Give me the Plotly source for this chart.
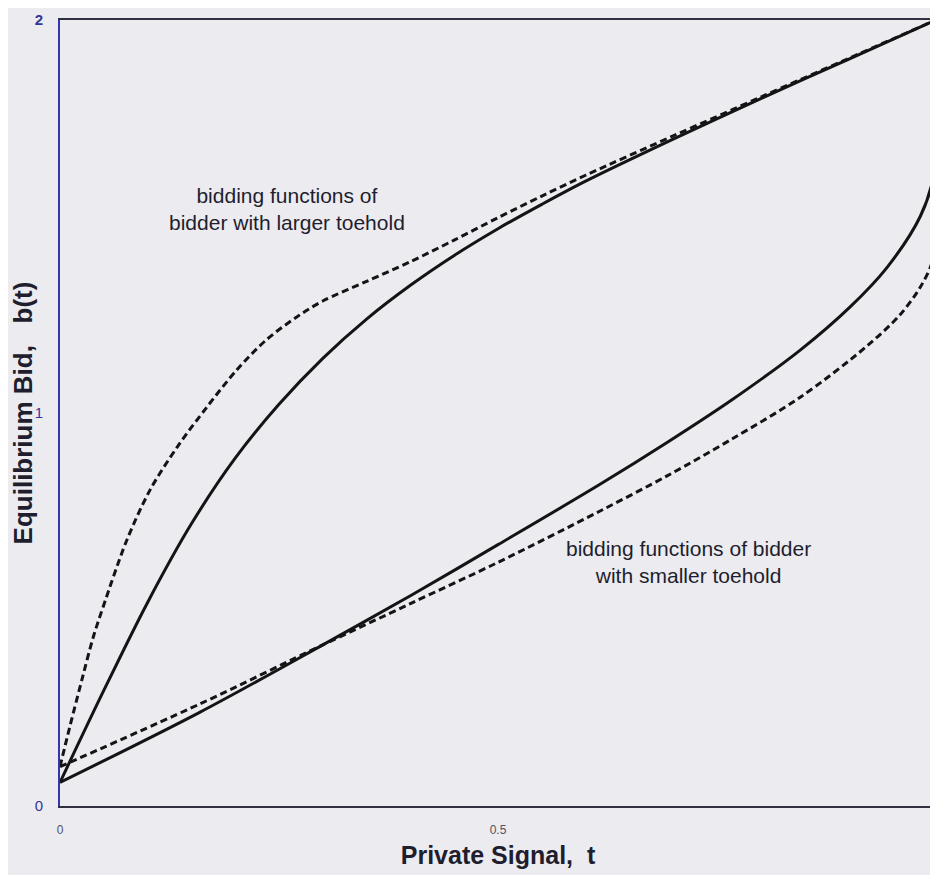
import plotly.graph_objects as go

# Larger toehold bidder
t_large_solid = [0.0, 0.05, 0.10, 0.15, 0.20, 0.25, 0.30, 0.35, 0.40, 0.45, 0.50, 0.55, 0.60, 0.70, 0.80, 0.90, 1.0]
b_large_solid = [0.06, 0.294, 0.518, 0.718, 0.885, 1.022, 1.139, 1.239, 1.325, 1.401, 1.469, 1.531, 1.590, 1.697, 1.800, 1.900, 2.0]

t_large_dash = [0.0, 0.011, 0.026, 0.038, 0.049, 0.076, 0.103, 0.134, 0.168, 0.202, 0.236, 0.274, 0.30, 0.35, 0.40, 0.45, 0.50, 0.55, 0.60, 0.70, 0.80, 0.90, 1.0]
b_large_dash = [0.10, 0.20, 0.33, 0.43, 0.505, 0.675, 0.805, 0.914, 1.016, 1.110, 1.187, 1.25, 1.285, 1.335, 1.385, 1.44, 1.497, 1.552, 1.605, 1.705, 1.804, 1.902, 2.0]

# Smaller toehold bidder
t_small_solid = [0.0, 0.16, 0.3, 0.4, 0.5, 0.616, 0.693, 0.768, 0.845, 0.902, 0.944, 0.982, 0.997, 1.0]
b_small_solid = [0.06, 0.239, 0.41, 0.535, 0.665, 0.818, 0.925, 1.035, 1.16, 1.27, 1.37, 1.50, 1.60, 1.70]

t_small_dash = [0.0, 0.16, 0.3, 0.4, 0.5, 0.616, 0.693, 0.768, 0.845, 0.921, 0.959, 0.982, 0.995, 1.0]
b_small_dash = [0.10, 0.26, 0.41, 0.515, 0.62, 0.75, 0.84, 0.935, 1.04, 1.17, 1.25, 1.32, 1.38, 1.45]

x_tickvals = [0, 0.5]
x_ticktext = ["0", "0.5"]
y_tickvals = [0, 1, 2]
y_ticktext = ["0", "1", "<b>2</b>"]

line_col = "#141414"
bg = "#ecebf0"
FONT = "Arial, Liberation Sans, sans-serif"

fig = go.Figure()
for t, b, dash in [
    (t_large_solid, b_large_solid, "solid"),
    (t_large_dash, b_large_dash, "7px,4px"),
    (t_small_solid, b_small_solid, "solid"),
    (t_small_dash, b_small_dash, "7px,4px"),
]:
    fig.add_trace(go.Scatter(x=t, y=b, mode="lines",
                             line=dict(color=line_col, width=3, dash=dash, shape="spline", smoothing=0.9),
                             showlegend=False, hoverinfo="skip"))

fig.add_annotation(x=0.259, y=1.52, xref="x", yref="y", text="bidding functions of<br>bidder with larger toehold",
                   showarrow=False, font=dict(family=FONT, size=21, color="#1e1e2e"), align="center")
fig.add_annotation(x=0.717, y=0.62, xref="x", yref="y", text="bidding functions of bidder<br>with smaller toehold",
                   showarrow=False, font=dict(family=FONT, size=21, color="#1e1e2e"), align="center")

fig.update_layout(
    width=930, height=867,
    margin=dict(l=52, r=2, t=12, b=69),
    paper_bgcolor=bg, plot_bgcolor=bg,
    font=dict(family=FONT),
)
fig.update_xaxes(range=[0, 1], tickvals=x_tickvals, ticktext=x_ticktext, showgrid=False, zeroline=False,
                 showline=True, linecolor="#303040", linewidth=2, mirror=True, ticks="",
                 ticklabelstandoff=12,
                 tickfont=dict(size=12, color="#505060"),
                 title=dict(text="<b>Private Signal,  t</b>", font=dict(size=25, color="#1e1e2e"), standoff=10))
fig.update_yaxes(range=[0, 2], tickvals=y_tickvals, ticktext=y_ticktext, showgrid=False, zeroline=False,
                 showline=True, linecolor="#3535b0", linewidth=2, ticks="outside", ticklen=12, tickcolor="rgba(0,0,0,0)",
                 tickfont=dict(size=15, color="#35359a"),
                 title=dict(text="<b>Equilibrium Bid,&nbsp;&nbsp;&nbsp;b(t)</b>", font=dict(size=26, color="#1e1e2e"), standoff=0))

fig.write_html("out.html")
